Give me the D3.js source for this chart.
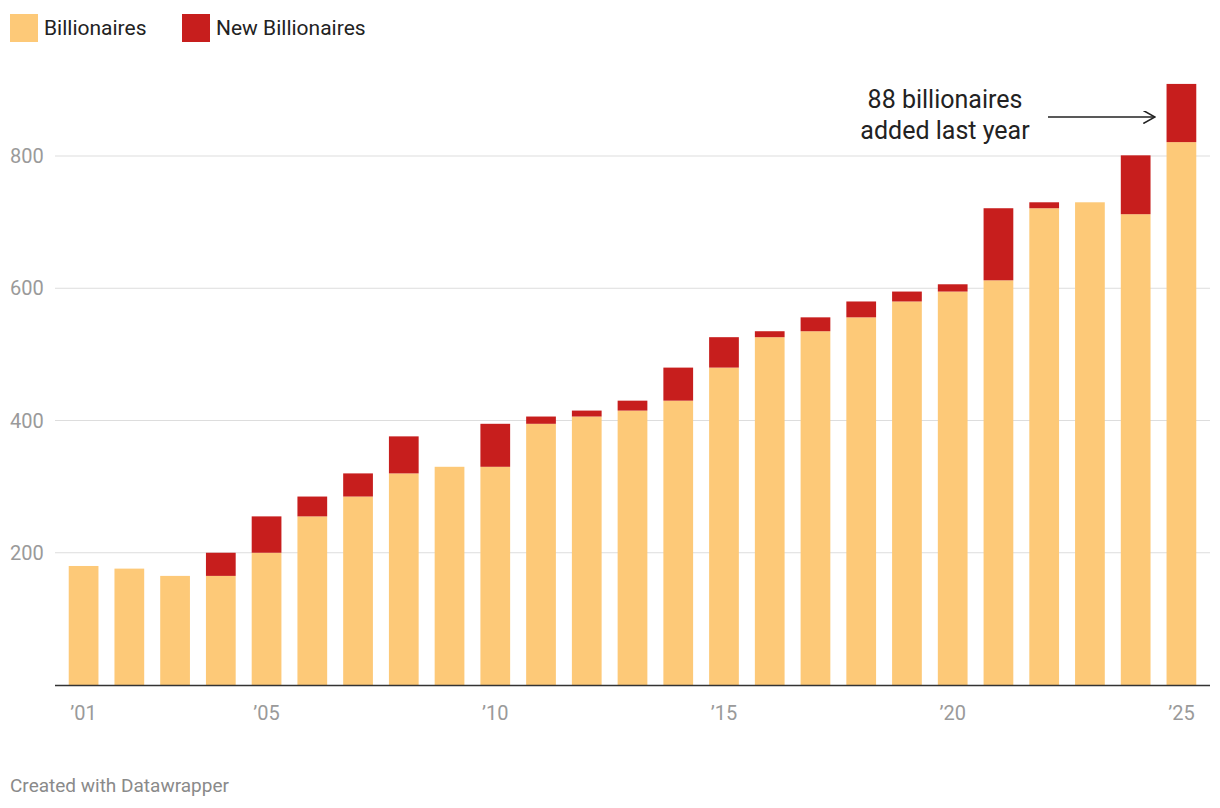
<!DOCTYPE html>
<html><head><meta charset="utf-8">
<script src="https://cdn.jsdelivr.net/npm/d3@7"></script>
<style>body{margin:0;background:#fff;font-family:Roboto,sans-serif}</style>
</head><body><svg id="c" width="1220" height="808"></svg>
<script>
const years = d3.range(2001, 2026);
const billionaires = [180,176,165,165,200,255,285,320,330,330,395,406,415,430,480,526,535,556,580,595,612,721,730,712,821];
const newBillionaires = [0,0,0,35,55,30,35,56,0,65,11,9,15,50,46,9,21,24,15,11,109,9,0,89,88];
const yTicks = [200,400,600,800];
const xTickYears = [2001,2005,2010,2015,2020,2025];

const svg = d3.select("#c");
const x = d3.scaleBand().domain(years).range([55,1210]).paddingInner(0.35).paddingOuter(0.3);
const y = d3.scaleLinear().domain([0,800]).range([685,156]);

svg.append("g").selectAll("line").data(yTicks).join("line")
  .attr("x1",55).attr("x2",1210).attr("y1",d=>y(d)).attr("y2",d=>y(d))
  .attr("stroke","#ddd").attr("stroke-width",1);
svg.append("g").selectAll("text").data(yTicks).join("text")
  .attr("x",10).attr("y",d=>y(d)+7).text(d=>d)
  .attr("font-size",20).attr("fill","#9a9a9a");

const g = svg.append("g");
g.selectAll(".b").data(years).join("rect")
  .attr("x",d=>x(d)).attr("width",x.bandwidth())
  .attr("y",(d,i)=>y(billionaires[i])).attr("height",(d,i)=>y(0)-y(billionaires[i]))
  .attr("fill","#fdc978");
g.selectAll(".n").data(years).join("rect")
  .attr("x",d=>x(d)).attr("width",x.bandwidth())
  .attr("y",(d,i)=>y(billionaires[i]+newBillionaires[i]))
  .attr("height",(d,i)=>y(billionaires[i])-y(billionaires[i]+newBillionaires[i]))
  .attr("fill","#c71e1d");

svg.append("line").attr("x1",55).attr("x2",1210).attr("y1",685.5).attr("y2",685.5).attr("stroke","#333").attr("stroke-width",1.5);
svg.append("g").selectAll("text").data(xTickYears).join("text")
  .attr("x",d=>x(d)+x.bandwidth()/2).attr("y",720).attr("text-anchor","middle")
  .text(d=>"\u2019"+String(d).slice(2)).attr("font-size",20).attr("fill","#9a9a9a");

// legend
const leg = [["Billionaires","#fdc978",10],["New Billionaires","#c71e1d",182]];
leg.forEach(([t,c,lx])=>{
  svg.append("rect").attr("x",lx).attr("y",14).attr("width",28).attr("height",28).attr("fill",c);
  svg.append("text").attr("x",lx+34).attr("y",35).text(t).attr("font-size",21).attr("fill","#222");
});

// annotation
svg.append("text").attr("x",945).attr("y",108).attr("text-anchor","middle").attr("font-size",25).attr("fill","#222").text("88 billionaires");
svg.append("text").attr("x",945).attr("y",139).attr("text-anchor","middle").attr("font-size",25).attr("fill","#222").text("added last year");
svg.append("defs").append("marker").attr("id","ah").attr("viewBox","0 0 10 10").attr("refX",9).attr("refY",5)
  .attr("markerWidth",10).attr("markerHeight",10).attr("orient","auto")
  .append("path").attr("d","M0,0 L9,5 L0,10").attr("fill","none").attr("stroke","#222").attr("stroke-width",1.2);
svg.append("line").attr("x1",1048).attr("x2",1155).attr("y1",117).attr("y2",117).attr("stroke","#222").attr("stroke-width",1.3).attr("marker-end","url(#ah)");

svg.append("text").attr("x",10).attr("y",792).attr("font-size",19).attr("fill","#8a8a8a").text("Created with Datawrapper");
</script></body></html>
